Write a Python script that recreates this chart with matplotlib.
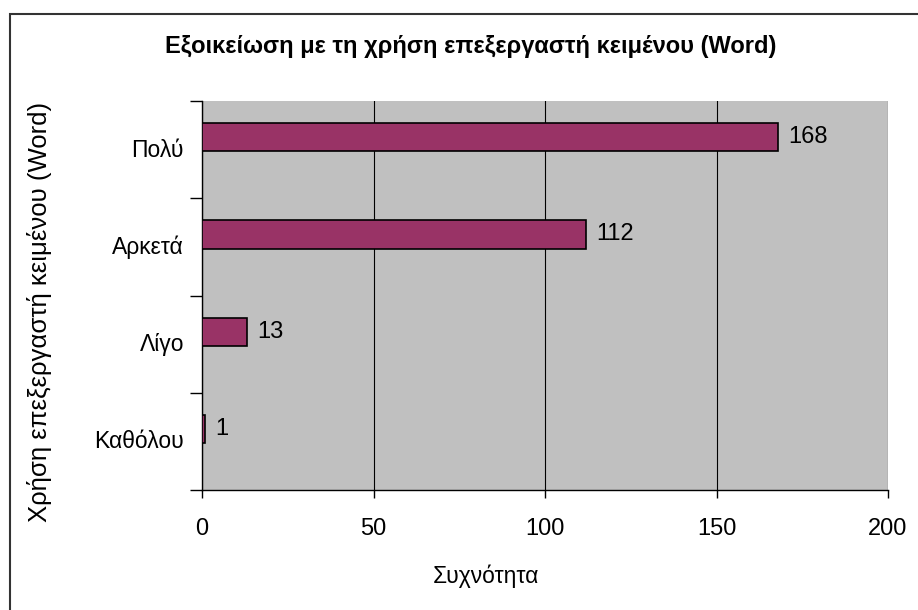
import matplotlib
matplotlib.use("Agg")
import matplotlib.pyplot as plt
from matplotlib.patches import Rectangle

categories = ["Καθόλου", "Λίγο", "Αρκετά", "Πολύ"]
values = [1, 13, 112, 168]
xticks = [0, 50, 100, 150, 200]
title = "Εξοικείωση με τη χρήση επεξεργαστή κειμένου (Word)"
xlabel = "Συχνότητα"
ylabel = "Χρήση επεξεργαστή κειμένου (Word)"

plt.rcParams['font.family'] = ['Liberation Sans', 'DejaVu Sans']

W, H = 918, 610
fig = plt.figure(figsize=(W / 100, H / 100), dpi=100)
fig.patch.set_facecolor('white')

# outer frame (partially cropped in reference)
fig.add_artist(Rectangle((10 / W, -0.1), 1.2, 1 - 14 / H + 0.1, transform=fig.transFigure,
                         fill=False, edgecolor='#333333', linewidth=1.5))

ax = fig.add_axes([202 / W, 1 - 490 / H, (888 - 202) / W, (490 - 101) / H])
ax.set_facecolor('#C0C0C0')
ypos = list(range(len(categories)))
bar_y = [y + 0.128 for y in ypos]
ax.barh(bar_y, values, height=0.29, color='#993366', edgecolor='black', linewidth=1.2, zorder=3)
for y, v in zip(bar_y, values):
    ax.text(v + 3, y, str(v), va='center', ha='left', fontsize=17, zorder=4)

ax.set_xlim(0, 200)
ax.set_ylim(-0.5, len(categories) - 0.5)
ax.set_xticks(xticks)
ax.set_xticklabels([str(t) for t in xticks], fontsize=17)
ax.set_yticks([y + 0.02 for y in ypos])
ax.set_yticklabels(categories, fontsize=16.5)
ax.tick_params(axis='y', length=0, pad=13)
ax.tick_params(axis='x', length=6, width=1, pad=14, direction='out')
# category separator ticks
ax.set_yticks([i - 0.5 for i in range(len(categories) + 1)], minor=True)
ax.tick_params(axis='y', which='minor', length=9, width=1, direction='out')
ax.grid(axis='x', color='black', linewidth=0.8, zorder=1)
for s in ['top', 'right']:
    ax.spines[s].set_visible(False)
for s in ['left', 'bottom']:
    ax.spines[s].set_color('black')
    ax.spines[s].set_linewidth(1)
ax.set_axisbelow(True)

fig.text(486 / W, 1 - 576 / H, xlabel, ha='center', va='center', fontsize=16.5)
fig.text(40 / W, 1 - 312 / H, ylabel, rotation=90, ha='center', va='center', fontsize=18.5)
fig.text(471 / W, 1 - 47 / H, title, ha='center', va='center', fontsize=17, fontweight='bold')

fig.savefig('out.png', dpi=100)
